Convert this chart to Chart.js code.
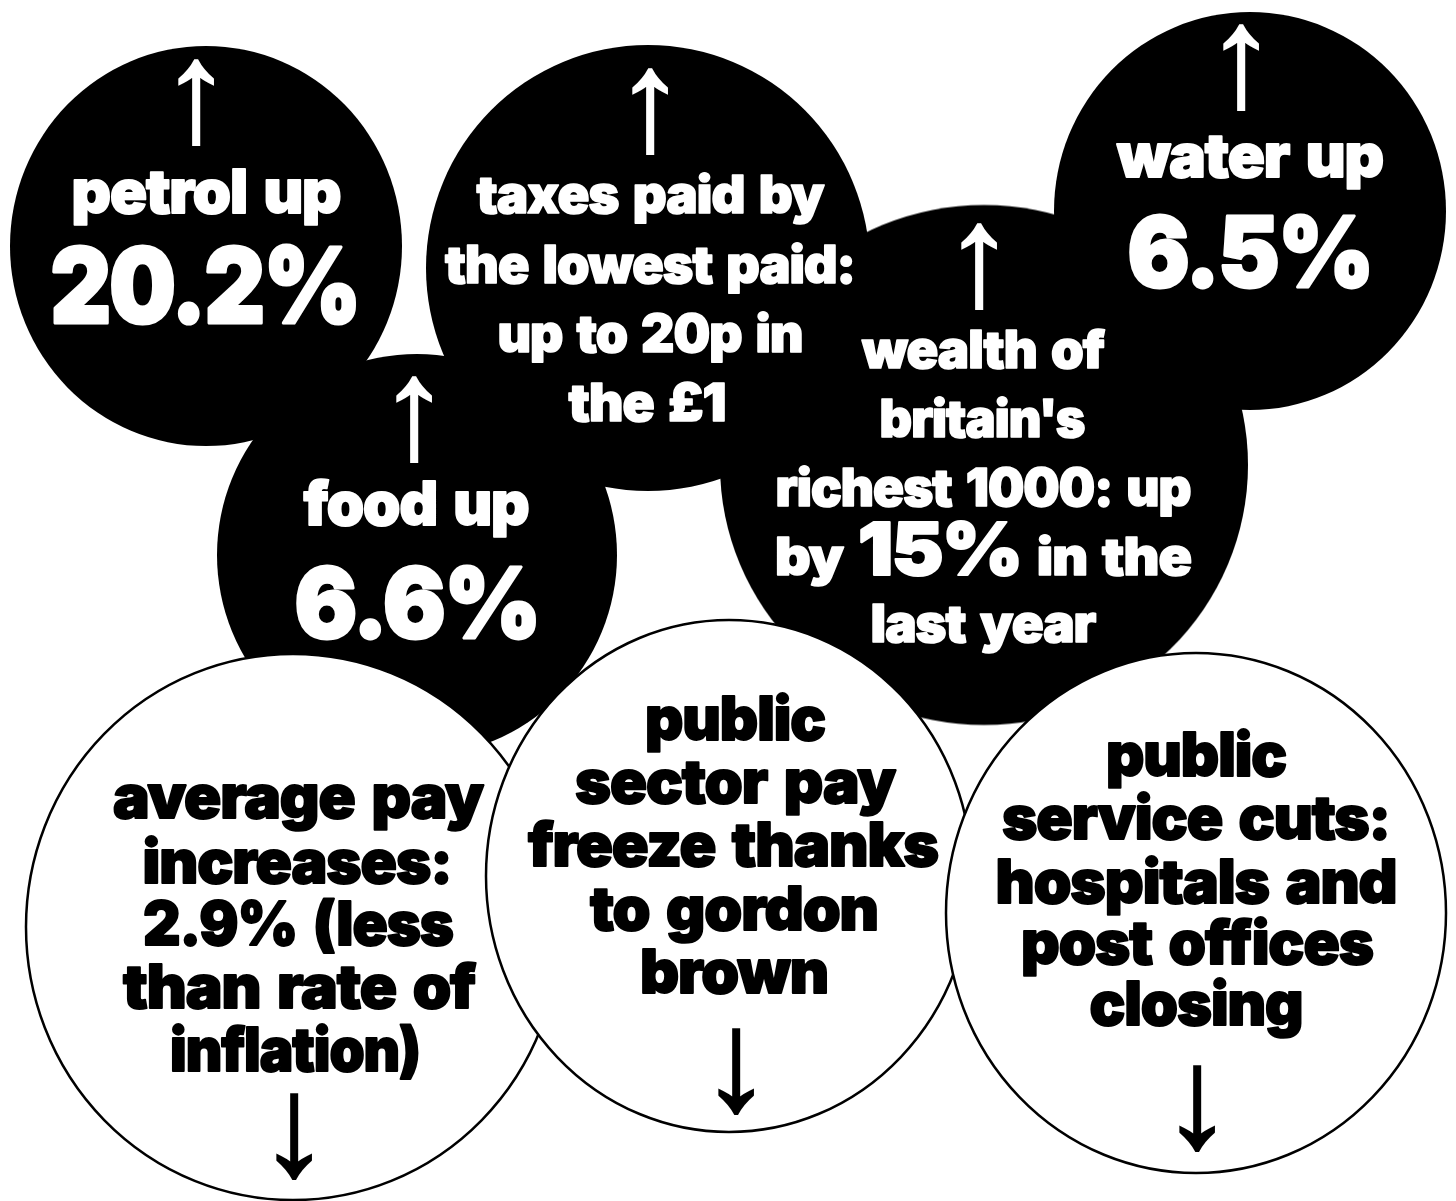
<!DOCTYPE html>
<html>
<head>
<meta charset="utf-8">
<script src="https://cdn.jsdelivr.net/npm/chart.js@4.4.1/dist/chart.umd.min.js"></script>
<style>
  html, body { margin: 0; padding: 0; background: #fff; }
  #wrap { width: 1456px; height: 1201px; }
</style>
</head>
<body>
<div id="wrap"><canvas id="bubbles" width="1456" height="1201"></canvas></div>
<script>
// Bolhas pretas (coisas que sobem) — centro e raios em unidades do desenho
const riseNames = ['petrol', 'food', 'taxes', 'wealth', 'water'];
const riseX = [206, 417, 648, 984, 1250];
const riseY = [246, 555, 268, 465, 211];
const riseRx = [196, 200, 222, 264, 196];
const riseRy = [200, 201, 223, 260, 199];

// Bolhas brancas (coisas que descem)
const fallNames = ['average pay', 'public sector pay', 'public service cuts'];
const fallX = [293, 729, 1196];
const fallY = [927, 876, 913];
const fallRx = [267, 243, 250];
const fallRy = [273, 256, 260];

// Textos
const petrolText = ['petrol up', '20.2%'];
const foodText = ['food up', '6.6%'];
const taxesText = ['taxes paid by', 'the lowest paid:', 'up to 20p in', 'the £1'];
const wealthText = ['wealth of', "britain's", 'richest 1000: up', ['by ', '15%', ' in the'], 'last year'];
const waterText = ['water up', '6.5%'];
const payText = ['average pay', 'increases:', '2.9% (less', 'than rate of', 'inflation)'];
const sectorText = ['public', 'sector pay', 'freeze thanks', 'to gordon', 'brown'];
const cutsText = ['public', 'service cuts:', 'hospitals and', 'post offices', 'closing'];

const UP = '\u2191';
const DOWN = '\u2193';
const HEAVY = "Inter, Roboto, Lato, 'Liberation Sans', sans-serif";
const ARROW_FONT = "'Liberation Sans', 'DejaVu Sans', sans-serif";

/** Layout: arrow [x, top], lines [x, baseline, size(s), width] (unidades do desenho) */
const LAYOUT = [
    { text: petrolText, color: '#fff', arrow: [196, 60, UP],
      lines: [[206, 213, 60, 269], [205, 323, 105, 309]] },
    { text: foodText, color: '#fff', arrow: [414, 377, UP],
      lines: [[416, 525, 60, 225], [417, 638, 97, 245]] },
    { text: taxesText, color: '#fff', arrow: [650, 69, UP],
      lines: [[650, 213, 52, 347], [650, 283, 52, 410], [650, 352, 52, 305], [647, 421, 52, 157]] },
    { text: wealthText, color: '#fff', arrow: [979, 224, UP],
      lines: [[983, 368, 52, 242], [982, 437, 52, 205], [983, 506, 52, 415],
              [983, 575, [52, 73, 52], 416], [983, 642, 52, 225]] },
    { text: waterText, color: '#fff', arrow: [1241, 25, UP],
      lines: [[1250, 177, 60, 266], [1250, 287, 97, 245]] },
    { text: payText, color: '#000', arrow: [294, 1094, DOWN],
      lines: [[298, 818, 60, 370], [297, 883, 60, 309], [298, 945, 60, 310],
              [299, 1008, 60, 352], [295, 1071, 60, 250]] },
    { text: sectorText, color: '#000', arrow: [736, 1029, DOWN],
      lines: [[735, 740, 60, 180], [735, 803, 60, 320], [733, 866, 60, 410],
              [734, 930, 60, 288], [734, 993, 60, 188]] },
    { text: cutsText, color: '#000', arrow: [1197, 1066, DOWN],
      lines: [[1196, 776, 60, 180], [1196, 839, 60, 388], [1196, 903, 60, 401],
              [1197, 964, 60, 352], [1196, 1025, 60, 213]] },
];
const ARROW_H = 86;

function ellipseStyle(fill, stroke) {
    return (ctx) => {
        const raw = ctx.raw;
        if (!raw) return 'circle';
        const { x, y } = ctx.chart.scales;
        const rx = Math.abs(x.getPixelForValue(raw.x + raw.rx) - x.getPixelForValue(raw.x));
        const ry = Math.abs(y.getPixelForValue(raw.y + raw.ry) - y.getPixelForValue(raw.y));
        const pad = 3;
        const c = document.createElement('canvas');
        c.width = Math.ceil(rx * 2 + pad * 2);
        c.height = Math.ceil(ry * 2 + pad * 2);
        const g = c.getContext('2d');
        g.beginPath();
        g.ellipse(c.width / 2, c.height / 2, rx, ry, 0, 0, Math.PI * 2);
        g.fillStyle = fill;
        g.fill();
        if (stroke) {
            g.lineWidth = 2.5;
            g.strokeStyle = stroke;
            g.stroke();
        }
        return c;
    };
}

function drawArrow(ctx, ch, cx, top, h) {
    ctx.font = `100px ${ARROW_FONT}`;
    const m = ctx.measureText(ch);
    const gh = m.actualBoundingBoxAscent + m.actualBoundingBoxDescent;
    const size = 100 * h / gh;
    ctx.font = `${size}px ${ARROW_FONT}`;
    const m2 = ctx.measureText(ch);
    ctx.textAlign = 'center';
    ctx.textBaseline = 'alphabetic';
    const ty = top + m2.actualBoundingBoxAscent;
    ctx.fillText(ch, cx, ty);
    ctx.lineWidth = 2;
    ctx.strokeText(ch, cx, ty);
}

function drawLine(ctx, segs, sizes, cx, baseline, width) {
    ctx.textAlign = 'left';
    ctx.textBaseline = 'alphabetic';
    const setFont = (s) => {
        ctx.font = `900 ${s}px ${HEAVY}`;
        ctx.letterSpacing = `${(-0.018 * s).toFixed(2)}px`;
        ctx.wordSpacing = `${(0.09 * s).toFixed(2)}px`;
    };
    const ws = segs.map((s, i) => {
        setFont(sizes[i]);
        return ctx.measureText(s).width;
    });
    const total = ws.reduce((a, b) => a + b, 0);
    const sx = width ? Math.min(1.35, Math.max(0.7, width / total)) : 1;
    ctx.save();
    ctx.translate(cx, baseline);
    ctx.scale(sx, 1);
    ctx.lineJoin = 'round';
    let px = -total / 2;
    segs.forEach((s, i) => {
        setFont(sizes[i]);
        ctx.lineWidth = sizes[i] * 0.03;
        ctx.fillText(s, px, 0);
        ctx.strokeText(s, px, 0);
        px += ws[i];
    });
    ctx.restore();
    ctx.letterSpacing = '0px';
    ctx.wordSpacing = '0px';
}

const labelPlugin = {
    id: 'circleLabels',
    afterDatasetsDraw(chart) {
        const { ctx } = chart;
        const { x, y } = chart.scales;
        const kx = Math.abs(x.getPixelForValue(1) - x.getPixelForValue(0));
        const ky = Math.abs(y.getPixelForValue(1) - y.getPixelForValue(0));
        LAYOUT.forEach((block) => {
            ctx.save();
            ctx.fillStyle = block.color;
            ctx.strokeStyle = block.color;
            const [ax, atop, ch] = block.arrow;
            drawArrow(ctx, ch, x.getPixelForValue(ax), y.getPixelForValue(atop), ARROW_H * ky);
            block.lines.forEach((spec, i) => {
                const txt = block.text[i];
                const segs = Array.isArray(txt) ? txt : [txt];
                const sizes = (Array.isArray(spec[2]) ? spec[2] : [spec[2]]).map((s) => s * ky);
                drawLine(ctx, segs, sizes, x.getPixelForValue(spec[0]), y.getPixelForValue(spec[1]), spec[3] * kx);
            });
            ctx.restore();
        });
    },
};

const toPoints = (names, xs, ys, rxs, rys) =>
    names.map((name, i) => ({ x: xs[i], y: ys[i], r: 1, rx: rxs[i], ry: rys[i], name }));

new Chart(document.getElementById('bubbles'), {
    type: 'bubble',
    data: {
        datasets: [
            {
                label: 'up',
                data: toPoints(riseNames, riseX, riseY, riseRx, riseRy),
                pointStyle: ellipseStyle('#000', null),
                backgroundColor: '#000',
                borderWidth: 0,
                clip: false,
                order: 2,
            },
            {
                label: 'down',
                data: toPoints(fallNames, fallX, fallY, fallRx, fallRy),
                pointStyle: ellipseStyle('#fff', '#000'),
                backgroundColor: '#fff',
                borderColor: '#000',
                clip: false,
                order: 1,
            },
        ],
    },
    options: {
        responsive: false,
        animation: false,
        events: [],
        devicePixelRatio: 1,
        layout: { padding: 0, autoPadding: false },
        plugins: {
            legend: { display: false },
            tooltip: { enabled: false },
        },
        scales: {
            x: { type: 'linear', min: 0, max: 1456, display: false },
            y: { type: 'linear', min: 0, max: 1201, reverse: true, display: false },
        },
    },
    plugins: [labelPlugin],
});
</script>
</body>
</html>
